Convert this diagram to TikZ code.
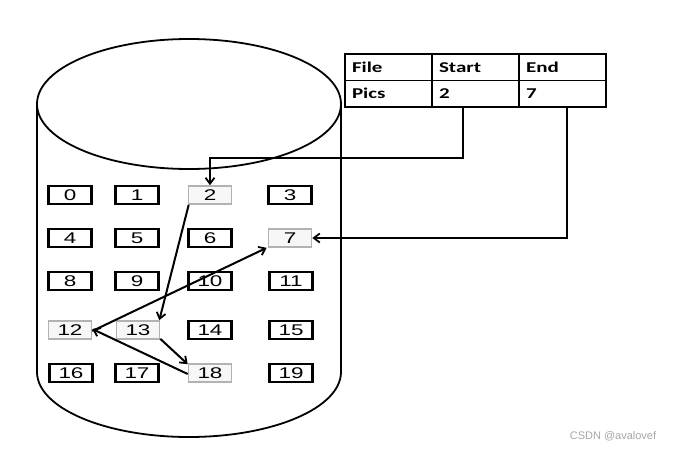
\documentclass[tikz,border=0pt]{standalone}
\usepackage{fontspec}
\setmainfont{Liberation Sans}
\newfontfamily\boxfont[FakeStretch=1.45]{Liberation Sans}
\newfontfamily\tabfont[FakeStretch=1.4]{Carlito}
\usetikzlibrary{arrows.meta}
\begin{document}
\begin{tikzpicture}[x=1pt,y=-1pt,
  blk/.style={draw=black,line width=2.2pt,minimum width=43pt,minimum height=18pt,inner sep=0pt,font=\boxfont\fontsize{15.5}{15.5}\selectfont},
  hblk/.style={blk,draw=gray!60,line width=1.6pt,fill=gray!6},
  cell/.style={draw=black,line width=1.3pt,minimum width=87pt,minimum height=26.5pt,inner xsep=7pt,inner ysep=4pt,text width=73pt,align=left,font=\tabfont\bfseries\fontsize{15}{15}\selectfont},
  link/.style={line width=2pt,-{Straight Barb[length=6pt,width=9pt,line width=1.8pt]}}]
\useasboundingbox (0,0) rectangle (680,450);
% cylinder
\draw[line width=1.8pt] (37,104) -- (37,372) arc[start angle=180,end angle=0,x radius=152,y radius=65] -- (341,104);
\draw[line width=1.8pt] (189,104) ellipse[x radius=152,y radius=65];
% blocks
\node[blk]  (b0)  at (70,195)  {0};
\node[blk]  (b1)  at (137,195) {1};
\node[hblk] (b2)  at (210,195) {2\hspace{8pt}};
\node[blk]  (b3)  at (290,195) {3};
\node[blk]  (b4)  at (70,238)  {4};
\node[blk]  (b5)  at (137,238) {5};
\node[blk]  (b6)  at (210,238) {6};
\node[hblk] (b7)  at (290,238) {7\hspace{8pt}};
\node[blk]  (b8)  at (70,281)  {8};
\node[blk]  (b9)  at (137,281) {9};
\node[blk]  (b10) at (210,281) {10};
\node[blk]  (b11) at (291,281) {11};
\node[hblk] (b12) at (70,330)  {12};
\node[hblk] (b13) at (138,330) {13};
\node[blk]  (b14) at (210,330) {14};
\node[blk]  (b15) at (291,330) {15};
\node[blk]  (b16) at (71,373)  {16};
\node[blk]  (b17) at (137,373) {17};
\node[hblk] (b18) at (210,373) {18};
\node[blk]  (b19) at (291,373) {19};
% table
\node[cell] (t1) at (388.5,67.3) {File};
\node[cell] (t2) at (475.5,67.3) {Start};
\node[cell] (t3) at (562.5,67.3) {End};
\node[cell] (t4) at (388.5,93.7) {Pics};
\node[cell] (t5) at (475.5,93.7) {2};
\node[cell] (t6) at (562.5,93.7) {7};
% links
\draw[link] ([xshift=-13pt]t5.south) |- (335,158) -| (b2.north);
\draw[link] ([xshift=4pt]t6.south) |- (b7.east);
\draw[link] ([xshift=1pt]b2.south west) -- ([xshift=-1pt]b13.north east);
\draw[link] ([yshift=1pt]b13.south east) -- ([yshift=-1pt]b18.north west);
\draw[link] ([yshift=-1pt]b18.west) -- ([yshift=1pt]b12.east);
\draw[link] ([yshift=-1pt]b12.east) -- ([xshift=-1pt]b7.south west);
% watermark
\node[text=gray!70,font=\fontsize{11}{11}\selectfont] (wm) at (613,436) {CSDN @avalovef};
\end{tikzpicture}
\end{document}
